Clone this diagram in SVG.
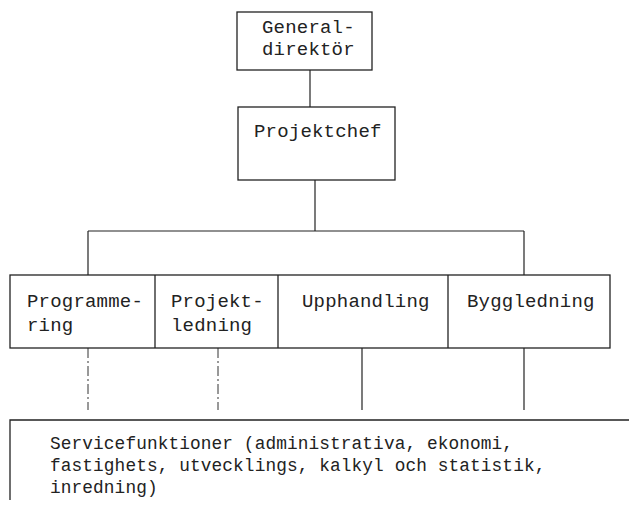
<svg xmlns="http://www.w3.org/2000/svg" width="629" height="513" viewBox="0 0 629 513">
<style>
.box{fill:none;stroke:#222;stroke-width:1.3}
.ln{fill:none;stroke:#222;stroke-width:1.2}
.dash{fill:none;stroke:#333;stroke-width:1;stroke-dasharray:10 3 2 3}
.t{font-family:"Liberation Mono","DejaVu Sans Mono",monospace;font-size:19px;letter-spacing:0.2px;fill:#222}
.s{font-family:"Liberation Mono","DejaVu Sans Mono",monospace;font-size:17.8px;letter-spacing:0.1px;fill:#222}
</style>
<rect width="629" height="513" fill="#fff"/>
<g id="connectors">
<line class="ln" x1="310" y1="70" x2="310" y2="107"/>
<line class="ln" x1="315" y1="180" x2="315" y2="231"/>
<line class="ln" x1="88" y1="231" x2="524" y2="231"/>
<line class="ln" x1="88" y1="231" x2="88" y2="275"/>
<line class="ln" x1="524" y1="231" x2="524" y2="275"/>
<line class="dash" x1="88" y1="348" x2="88" y2="410"/>
<line class="dash" x1="218" y1="348" x2="218" y2="410"/>
<line class="ln" x1="362" y1="348" x2="362" y2="410"/>
<line class="ln" x1="524" y1="348" x2="524" y2="410"/>
</g>
<g id="generaldirektor">
<rect class="box" x="237" y="12" width="135" height="58"/>
<text class="t" x="262" y="33">General-</text>
<text class="t" x="262" y="55">direktör</text>
</g>
<g id="projektchef">
<rect class="box" x="238" y="107" width="157" height="73"/>
<text class="t" x="254" y="137">Projektchef</text>
</g>
<g id="row">
<rect class="box" x="10" y="275" width="600" height="73"/>
<line class="box" x1="155" y1="275" x2="155" y2="348"/>
<line class="box" x1="278" y1="275" x2="278" y2="348"/>
<line class="box" x1="448" y1="275" x2="448" y2="348"/>
</g>
<g id="programmering"><text class="t" x="27" y="307">Programme-</text><text class="t" x="27" y="331">ring</text></g>
<g id="projektledning"><text class="t" x="171" y="307">Projekt-</text><text class="t" x="171" y="331">ledning</text></g>
<g id="upphandling"><text class="t" x="302" y="307">Upphandling</text></g>
<g id="byggledning"><text class="t" x="467" y="307">Byggledning</text></g>
<g id="servicefunktioner">
<path class="box" d="M10 500 V420 H629"/>
<text class="s" x="50" y="449">Servicefunktioner (administrativa, ekonomi,</text>
<text class="s" x="50" y="471">fastighets, utvecklings, kalkyl och statistik,</text>
<text class="s" x="50" y="493">inredning)</text>
</g>
</svg>
